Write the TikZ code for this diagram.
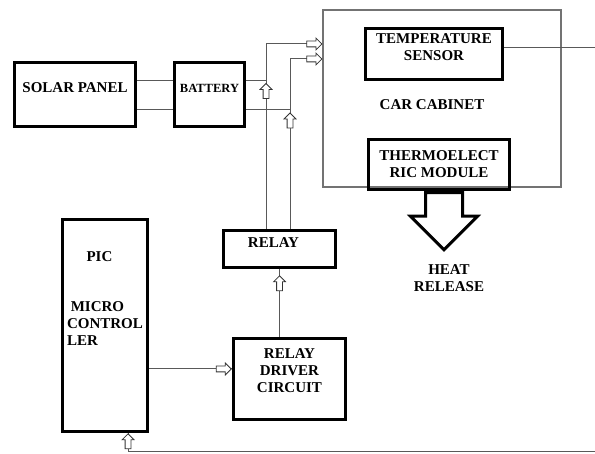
\documentclass[tikz,border=0pt]{standalone}
\usepackage{fontspec}
\setmainfont{Liberation Serif}
\usetikzlibrary{positioning, shapes.arrows}

\begin{document}
\begin{tikzpicture}[x=1pt, y=-1pt,
  txt/.style={font=\fontsize{15}{17}\selectfont\bfseries, align=center},
  blk/.style={txt, draw, line width=3.5pt},
  lift/.style={text depth=#1},
  wire/.style={draw=black!65, line width=1pt},
  hollow/.style={single arrow, draw=black!80, fill=white, line width=0.8pt,
                 inner xsep=0pt, inner ysep=2.5pt, single arrow head extend=3pt,
                 minimum height=15pt},
  bigarrow/.style={single arrow, draw, fill=white, line width=3pt,
                   inner xsep=0pt, inner ysep=17pt, single arrow head extend=15pt,
                   minimum height=57pt}]
  \useasboundingbox (0,0) rectangle (595,454);

  % power side
  \node[blk, lift=13pt, minimum width=121pt, minimum height=64pt] (solar) at (75,94.5) {SOLAR PANEL};
  \node[blk, lift=13pt, font=\fontsize{12.5}{14}\selectfont\bfseries,
        minimum width=70pt, minimum height=64pt] (battery) at (209.5,94.5) {BATTERY};

  % cabinet
  \node[draw=black!55, line width=1.2pt, minimum width=238pt, minimum height=177pt] (cabinet) at (442,98.5) {};
  \node[blk, lift=13pt, minimum width=137pt, minimum height=51pt] (sensor) at (434,54) {TEMPERATURE\\SENSOR};
  \node[txt] (cablabel) at (432,105) {CAR CABINET};
  \node[blk, lift=1pt, minimum width=141pt, minimum height=50pt] (thermo) at (439,164.5) {THERMOELECT\\RIC MODULE};
  \node[bigarrow, rotate=-90, anchor=tail] (heat) at ([xshift=5pt]thermo.south) {};
  \node[txt] (heatlabel) at (449,278) {HEAT\\RELEASE};

  % control side
  \node[blk, lift=12pt, minimum width=112pt, minimum height=37pt] (relay) at (279.5,249) {RELAY\hspace{12pt}};
  \node[blk, lift=16pt, minimum width=112pt, minimum height=81pt] (driver) at (289.5,379) {RELAY\\DRIVER\\CIRCUIT};
  \node[blk, minimum width=85pt, minimum height=212pt] (pic) at (105,325.5) {};
  \node[txt] (piclabel) at (99.5,257) {PIC};
  \node[txt, align=left, anchor=north west] (mclabel) at (63.5,298) {\ MICRO\\CONTROL\\LER};

  \coordinate (upa) at (266,44);
  \coordinate (upb) at (290,59);
  \coordinate (bt) at ([yshift=13.5pt]battery.east);
  \coordinate (bb) at ([yshift=-15.5pt]battery.east);
  \coordinate (dr) at ([yshift=10pt]driver.west);
  \coordinate (sn) at ([yshift=6pt]sensor.east);
  \coordinate (rim) at (595,452);
  \coordinate (picin) at (128,452);

  \draw[wire] ([yshift=13.5pt]solar.east) -- ([yshift=13.5pt]battery.west);
  \draw[wire] ([yshift=-15.5pt]solar.east) -- ([yshift=-15.5pt]battery.west);
  \draw[wire] (bt) -- (bt -| upa);
  \draw[wire] (bb) -- (bb -| upb);
  \draw[wire] (relay.north -| upa) -- (upa) -- (upa -| cabinet.west);
  \draw[wire] (relay.north -| upb) -- (upb) -- (upb -| cabinet.west);
  \draw[wire] (driver.north -| relay.south) -- (relay.south);
  \draw[wire] (pic.east |- dr) -- (dr);
  \draw[wire] (sn) -- (sn -| rim);
  \draw[wire] (rim) -- (picin) -- (picin |- pic.south);

  % hollow heads
  \node[hollow, rotate=90] (arA) at (266,92.5) {};
  \node[hollow, rotate=90] (arB) at (290,122) {};
  \node[hollow, anchor=tip] (arC) at (upa -| cabinet.west) {};
  \node[hollow, anchor=tip] (arD) at (upb -| cabinet.west) {};
  \node[hollow, rotate=90, anchor=tip] (arE) at ([yshift=-6pt]relay.south) {};
  \node[hollow, anchor=tip] (arF) at (dr) {};
  \node[hollow, rotate=90, anchor=tip] (arG) at (picin |- pic.south) {};
\end{tikzpicture}
\end{document}
